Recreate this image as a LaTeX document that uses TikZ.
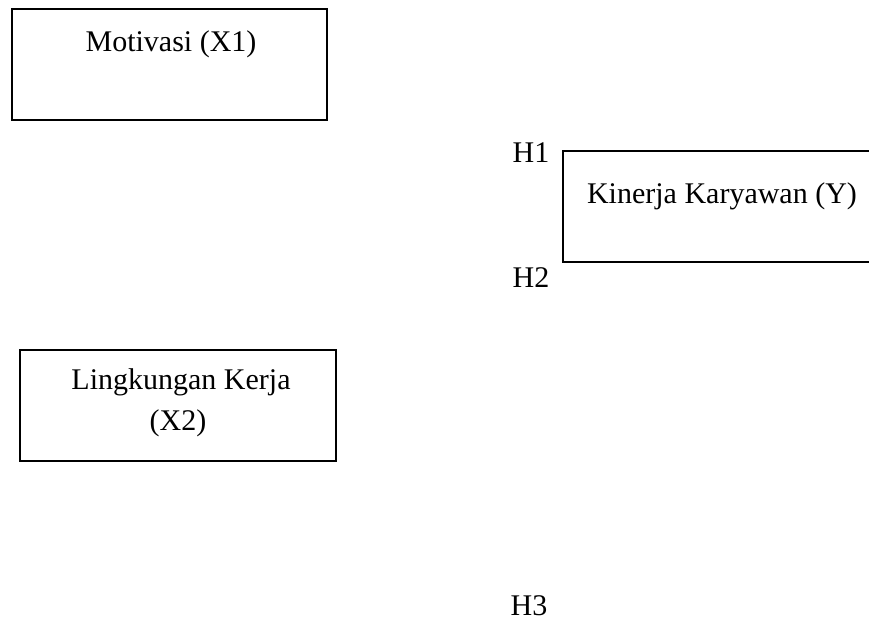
\documentclass[tikz,border=0pt]{standalone}
\usepackage{fontspec}
\setmainfont{Liberation Serif}
\begin{document}
\begin{tikzpicture}[x=1pt,y=-1pt,
  boxline/.style={draw=black,line width=1.6pt},
  lbl/.style={inner sep=0pt,anchor=base,font=\fontsize{30}{36}\selectfont}]
\useasboundingbox (0,0) rectangle (869,620);
% Motivasi box
\draw[boxline] (12,9) rectangle (327,120);
\node[lbl] (x1) at (171,52) {Motivasi (X1)};
% Kinerja box (open at right edge)
\draw[boxline] (870,151) -- (563,151) -- (563,262) -- (870,262);
\node[lbl] (y) at (722,204) {Kinerja Karyawan (Y)};
% Lingkungan box
\draw[boxline] (20,350) rectangle (336,461);
\node[lbl] (x2a) at (181,389) {Lingkungan Kerja};
\node[lbl] (x2b) at (178,430) {(X2)};
% hypothesis labels
\node[lbl] (h1) at (531,163) {H1};
\node[lbl] (h2) at (531,287) {H2};
\node[lbl] (h3) at (529,615) {H3};
\end{tikzpicture}
\end{document}
